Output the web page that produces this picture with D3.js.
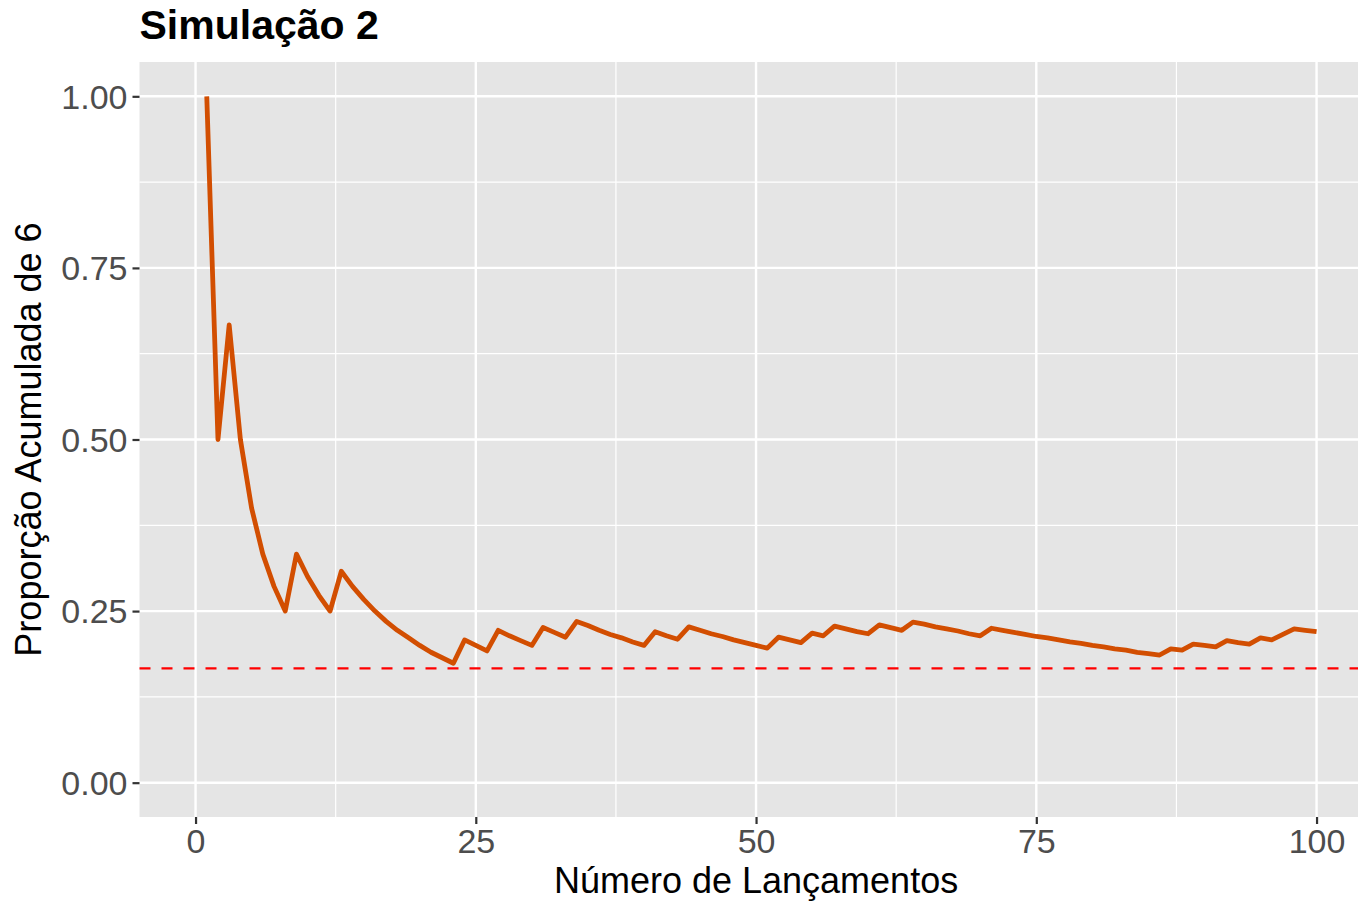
<!DOCTYPE html>
<html><head><meta charset="utf-8">
<script src="https://cdn.jsdelivr.net/npm/d3@7"></script>
<style>body{margin:0;background:#fff}svg{display:block}</style>
</head><body>
<svg id="c" width="1358" height="905"></svg>
<script>
const titleText = "Simulação 2";
const xLabel = "Número de Lançamentos";
const yLabel = "Proporção Acumulada de 6";
const launches = d3.range(1, 101);
const proportions = [
1.000,0.500,0.667,0.500,0.400,0.333,0.286,0.250,0.333,0.300,
0.273,0.250,0.308,0.286,0.267,0.250,0.235,0.222,0.211,0.200,
0.190,0.182,0.174,0.208,0.200,0.192,0.222,0.214,0.207,0.200,
0.226,0.219,0.212,0.235,0.229,0.222,0.216,0.211,0.205,0.200,
0.220,0.214,0.209,0.227,0.222,0.217,0.213,0.208,0.204,0.200,
0.196,0.212,0.208,0.204,0.218,0.214,0.228,0.224,0.220,0.217,
0.230,0.226,0.222,0.234,0.231,0.227,0.224,0.221,0.217,0.214,
0.225,0.222,0.219,0.216,0.213,0.211,0.208,0.205,0.203,0.200,
0.198,0.195,0.193,0.190,0.188,0.186,0.195,0.193,0.202,0.200,
0.198,0.207,0.204,0.202,0.211,0.208,0.216,0.224,0.222,0.220];
const referenceValue = 1/6;
const xTicks = [0, 25, 50, 75, 100];
const xMinor = [12.5, 37.5, 62.5, 87.5];
const yTicks = [0, 0.25, 0.5, 0.75, 1.0];
const yMinor = [0.125, 0.375, 0.625, 0.875];

const FONT = "Liberation Sans, Arial, Helvetica, sans-serif";
const svg = d3.select("#c");
const L = 139.5, T = 62, B = 817;
const x = d3.scaleLinear().domain([-5, 105]).range([L, L + (1316 - 195) * 1.10]);
const y = d3.scaleLinear().domain([-0.05, 1.05]).range([B, T]);

svg.append("rect").attr("x", L).attr("y", T).attr("width", x(105) - L).attr("height", B - T).attr("fill", "#E5E5E5");

const g = svg.append("g");
g.selectAll(".xm").data(xMinor).enter().append("line")
  .attr("x1", d => x(d)).attr("x2", d => x(d)).attr("y1", T).attr("y2", B)
  .attr("stroke", "#fff").attr("stroke-width", 1.2);
g.selectAll(".ym").data(yMinor).enter().append("line")
  .attr("y1", d => y(d)).attr("y2", d => y(d)).attr("x1", L).attr("x2", x(105))
  .attr("stroke", "#fff").attr("stroke-width", 1.2);
g.selectAll(".xM").data(xTicks).enter().append("line")
  .attr("x1", d => x(d)).attr("x2", d => x(d)).attr("y1", T).attr("y2", B)
  .attr("stroke", "#fff").attr("stroke-width", 2.4);
g.selectAll(".yM").data(yTicks).enter().append("line")
  .attr("y1", d => y(d)).attr("y2", d => y(d)).attr("x1", L).attr("x2", x(105))
  .attr("stroke", "#fff").attr("stroke-width", 2.4);

const data = launches.map((n, i) => ({n, p: proportions[i]}));
svg.append("path").datum(data)
  .attr("fill", "none").attr("stroke", "#D24E01").attr("stroke-width", 4.8)
  .attr("stroke-linejoin", "round").attr("stroke-linecap", "butt")
  .attr("d", d3.line().x(d => x(d.n)).y(d => y(d.p)));

svg.append("line").attr("x1", L).attr("x2", x(105))
  .attr("y1", y(referenceValue)).attr("y2", y(referenceValue))
  .attr("stroke", "#FF0000").attr("stroke-width", 2.3).attr("stroke-dasharray", "11,11");

// axes
const xAxis = svg.append("g").attr("transform", `translate(0,${B})`)
  .call(d3.axisBottom(x).tickValues(xTicks).tickSize(7).tickPadding(5).tickFormat(d3.format("d")));
const yAxis = svg.append("g").attr("transform", `translate(${L},0)`)
  .call(d3.axisLeft(y).tickValues(yTicks).tickSize(7).tickPadding(5).tickFormat(d3.format(".2f")));
[xAxis, yAxis].forEach(a => {
  a.select(".domain").remove();
  a.selectAll(".tick line").attr("stroke", "#333").attr("stroke-width", 2.2);
  a.selectAll(".tick text").attr("fill", "#4D4D4D").style("font-family", FONT).style("font-size", "34px");
});
xAxis.selectAll(".tick text").attr("dy", "0.71em");
yAxis.selectAll(".tick text").attr("dy", "0.35em");

svg.append("text").attr("x", x(50)).attr("y", 893).attr("text-anchor", "middle")
  .style("font-family", FONT).style("font-size", "36px").attr("fill", "#000").text(xLabel);
svg.append("text").attr("transform", `translate(41,${(T + B) / 2}) rotate(-90)`).attr("text-anchor", "middle")
  .style("font-family", FONT).style("font-size", "36px").attr("fill", "#000").text(yLabel);
svg.append("text").attr("x", L).attr("y", 39)
  .style("font-family", FONT).style("font-size", "41px").style("font-weight", "bold").attr("fill", "#000").text(titleText);
</script>
</body></html>
